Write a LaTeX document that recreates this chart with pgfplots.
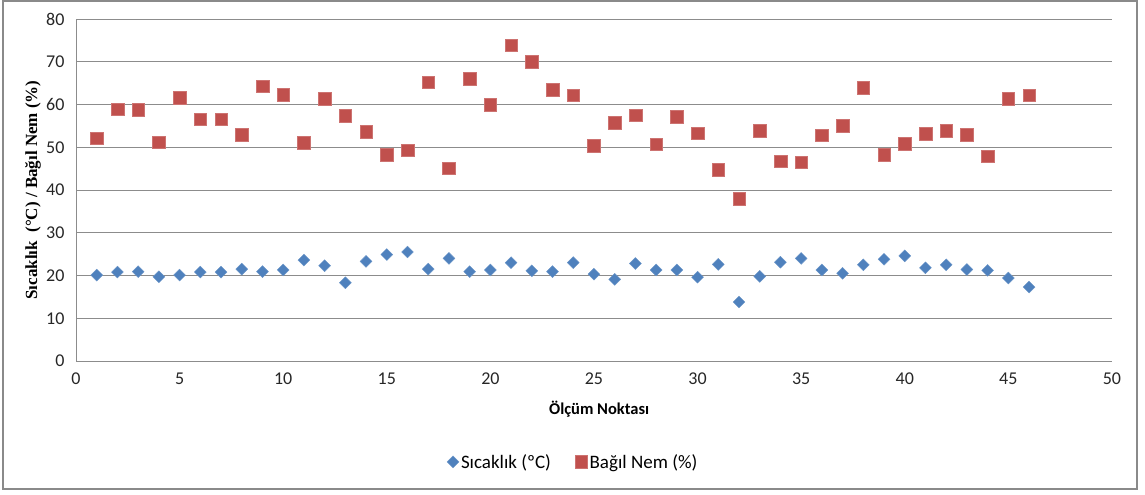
\documentclass[border=0pt]{standalone}
\usepackage{fontspec}
\setmainfont{Carlito}
\newfontfamily\serifbold{Liberation Serif}
\usepackage{pgfplots}
\pgfplotsset{compat=1.18}
\usepackage{pgfplotstable}

\definecolor{tempblue}{HTML}{4F81BD}
\definecolor{humred}{HTML}{C0504D}
\definecolor{gridgray}{HTML}{8C8C8C}
\definecolor{framegray}{HTML}{8A8A8A}

% point, temperature (C), relative humidity (%)
\pgfplotstableread{
n  T     RH
1  20.1  52.1
2  20.8  58.9
3  20.9  58.8
4  19.7  51.2
5  20.1  61.6
6  20.8  56.6
7  20.8  56.6
8  21.5  53.0
9  20.9  64.3
10 21.3  62.3
11 23.6  51.1
12 22.3  61.4
13 18.3  57.4
14 23.3  53.6
15 24.9  48.3
16 25.5  49.3
17 21.5  65.2
18 24.0  45.1
19 20.9  66.0
20 21.3  60.0
21 23.0  73.9
22 21.1  70.0
23 20.9  63.5
24 23.0  62.2
25 20.3  50.4
26 19.1  55.7
27 22.8  57.5
28 21.3  50.7
29 21.3  57.1
30 19.6  53.3
31 22.6  44.7
32 13.8  37.9
33 19.8  53.9
34 23.1  46.7
35 24.0  46.5
36 21.3  52.8
37 20.5  55.1
38 22.5  64.0
39 23.8  48.2
40 24.6  50.9
41 21.8  53.1
42 22.5  53.9
43 21.4  52.9
44 21.2  47.9
45 19.4  61.3
46 17.3  62.2
}\measurements

\begin{document}
\begin{tikzpicture}
\useasboundingbox (0,0) rectangle (1145bp,495bp);
\draw[framegray, line width=1.2bp] (3bp,6bp) rectangle (1137bp,494bp);
\begin{axis}[
  at={(76bp,134bp)}, anchor=south west,
  scale only axis,
  width=1036bp, height=342bp,
  xmin=0, xmax=50, ymin=0, ymax=80,
  xtick={0,5,...,50}, ytick={0,10,...,80},
  axis x line*=bottom, axis y line*=left,
  axis line style={gridgray, line width=0.9bp, -},
  major tick length=0pt,
  ymajorgrids,
  grid style={gridgray, line width=0.9bp},
  /pgf/number format/assume math mode=true,
  ticklabel style={font=\fontsize{18bp}{21bp}\selectfont, text=black!85},
  xticklabel style={yshift=-8bp},
  yticklabel style={xshift=-8bp},
  xlabel={\textbf{Ölçüm Noktası}},
  ylabel={\serifbold\bfseries Sıcaklık\ \ (°C) / Bağıl Nem (\%)},
  every axis x label/.style={at={(axis description cs:0.505,-0.140)}, anchor=center,
    font=\fontsize{16.5bp}{19bp}\selectfont},
  every axis y label/.style={at={(axis description cs:-0.0415,0.5)}, anchor=center,
    rotate=90, font=\fontsize{17bp}{20bp}\selectfont},
  legend columns=2,
  legend style={at={(axis description cs:0.48,-0.295)}, anchor=center,
    draw=none, fill=none, font=\fontsize{19bp}{22bp}\selectfont,
    /tikz/every even column/.append style={column sep=22bp},
    inner sep=0pt,
    nodes={inner sep=2bp}},
  legend image code/.code={\draw[mark repeat=2,mark phase=2] plot coordinates {(0bp,0bp) (6bp,0bp) (12bp,0bp)};},
  legend cell align=left,
]
\addplot[only marks, mark=square*, mark size=4.2bp,
  mark options={rotate=45, fill=tempblue, draw=tempblue!85!white, line width=0.4bp}]
  table[x=n, y=T] {\measurements};
\addlegendentry{Sıcaklık (ºC)}
\addplot[only marks, mark=square*, mark size=6.3bp,
  mark options={fill=humred, draw=humred!80!white, line width=0.4bp}]
  table[x=n, y=RH] {\measurements};
\addlegendentry{Bağıl Nem (\%)}
\end{axis}
\end{tikzpicture}
\end{document}
